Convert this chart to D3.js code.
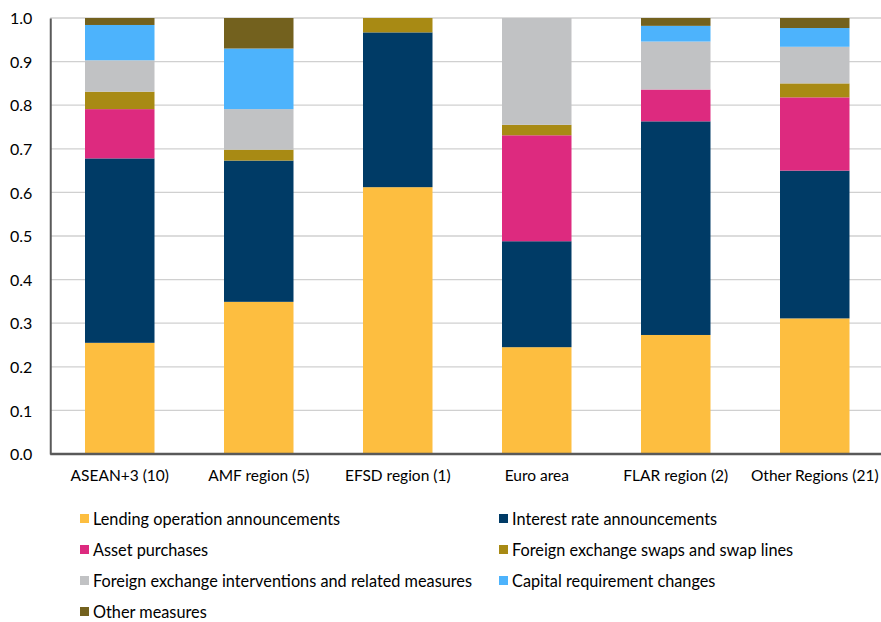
<!DOCTYPE html>
<html><head><meta charset="utf-8">
<script src="https://cdn.jsdelivr.net/npm/d3@7"></script>
<style>body{margin:0;background:#fff}svg{display:block}text{font-family:Lato,"Open Sans",sans-serif;fill:#000}</style>
</head><body><svg id="c" width="881" height="622"></svg>
<script>
const categories = ["ASEAN+3 (10)","AMF region (5)","EFSD region (1)","Euro area","FLAR region (2)","Other Regions (21)"];
const seriesNames = ["Lending operation announcements","Interest rate announcements","Asset purchases","Foreign exchange swaps and swap lines","Foreign exchange interventions and related measures","Capital requirement changes","Other measures"];
const lending   = [0.255,0.349,0.612,0.245,0.273,0.311];
const interest  = [0.423,0.324,0.355,0.243,0.490,0.339];
const asset     = [0.113,0.000,0.000,0.243,0.073,0.168];
const fxSwaps   = [0.040,0.025,0.033,0.024,0.000,0.032];
const fxInterv  = [0.072,0.093,0.000,0.245,0.110,0.084];
const capital   = [0.081,0.139,0.000,0.000,0.036,0.043];
const other     = [0.016,0.070,0.000,0.000,0.018,0.023];
const yTicks = [0,0.1,0.2,0.3,0.4,0.5,0.6,0.7,0.8,0.9,1.0];
const colors = ["#FDBE40","#003B66","#DD2A7F","#A88A14","#C1C2C4","#4DB3FC","#73611E"];

(function(){
const seriesVals = [lending,interest,asset,fxSwaps,fxInterv,capital,other];
const keys = seriesNames;
const table = categories.map((c,i)=>{const o={cat:c};keys.forEach((k,j)=>o[k]=seriesVals[j][i]);return o;});

const svg = d3.select("#c");
const L=50.25, R=884.25, T=18, B=454;
const x = d3.scaleBand().domain(categories).range([L,R]).paddingInner(0.5).paddingOuter(0.25);
const y = d3.scaleLinear().domain([0,1]).range([B,T]);

svg.append("g").selectAll("line").data(yTicks.filter(d=>d>0)).join("line")
  .attr("x1",L).attr("x2",881).attr("y1",d=>y(d)).attr("y2",d=>y(d))
  .attr("stroke","#D0D0D0").attr("stroke-width",1.3);

const stack = d3.stack().keys(keys)(table);
svg.append("g").selectAll("g").data(stack).join("g").attr("fill",(d,i)=>colors[i])
  .selectAll("rect").data(d=>d).join("rect")
  .attr("x",d=>x(d.data.cat)).attr("width",x.bandwidth())
  .attr("y",d=>y(d[1])).attr("height",d=>Math.max(0,y(d[0])-y(d[1])));

const ya = svg.append("g").attr("transform",`translate(${L},0)`)
  .call(d3.axisLeft(y).tickValues(yTicks).tickFormat(d3.format(".1f")).tickSize(0).tickPadding(18));
ya.select(".domain").attr("stroke","#595959").attr("stroke-width",2);
ya.selectAll("text").style("font-size","16px").attr("dy","0.35em");

const xa = svg.append("g").attr("transform",`translate(0,${B})`)
  .call(d3.axisBottom(x).tickSize(0).tickPadding(16));
xa.select(".domain").attr("d",`M${L},0H881`).attr("stroke","#595959").attr("stroke-width",2.5);
xa.selectAll("text").style("font-size","15.5px");

const lg = svg.append("g");
const colX=[80,499], rowY=[519,550,581,612];
seriesNames.forEach((n,i)=>{
  const cx=colX[i%2], cy=rowY[Math.floor(i/2)];
  lg.append("rect").attr("x",cx).attr("y",cy-5).attr("width",9).attr("height",9).attr("fill",colors[i]);
  lg.append("text").attr("x",cx+13).attr("y",cy).attr("dy","0.35em").style("font-size","16.3px").text(n);
});
})();
</script></body></html>
